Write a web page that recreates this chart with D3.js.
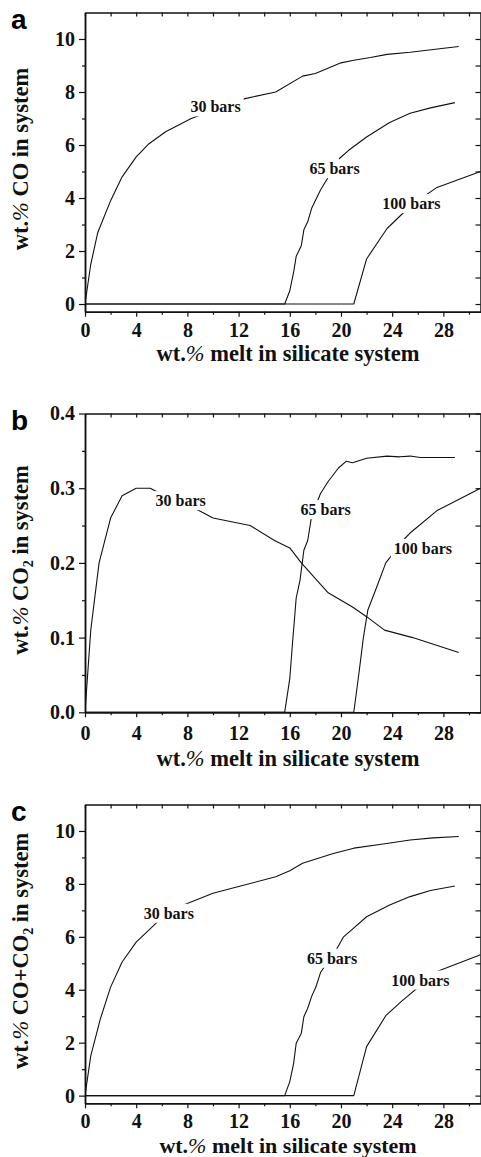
<!DOCTYPE html>
<html>
<head>
<meta charset="utf-8">
<script src="https://cdn.jsdelivr.net/npm/d3@7"></script>
<style>
body { margin: 0; background: #fff; }
svg text { font-family: "Liberation Serif", "Times New Roman", serif; font-weight: bold; fill: #111; }
</style>
</head>
<body>
<div id="chart"></div>
<script>
// ---- data ----
var xMajor = [0, 4, 8, 12, 16, 20, 24, 28];
var xMinor = [2, 6, 10, 14, 18, 22, 26, 30];
var yMajorCO = [0, 2, 4, 6, 8, 10];
var yMinorCO = [1, 3, 5, 7, 9];
var yMajorCO2 = [0, 0.1, 0.2, 0.3, 0.4];
var yMinorCO2 = [0.05, 0.15, 0.25, 0.35];
var seriesNames = ["30 bars", "65 bars", "100 bars"];

// a: wt.% CO
var co30x = [0, 0.45, 1, 2, 2.9, 4, 5, 6.3, 8.3, 12.5, 14.9, 17, 18, 20, 21, 22.3, 23.6, 25.4, 29.2];
var co30y = [0, 1.5, 2.7, 3.9, 4.8, 5.55, 6.05, 6.5, 7.0, 7.75, 8.0, 8.6, 8.7, 9.1, 9.2, 9.3, 9.42, 9.5, 9.72];
var co65x = [0, 15.6, 16.0, 16.3, 16.5, 16.9, 17.1, 17.4, 17.7, 18.4, 19.9, 20.6, 22, 23.8, 25.4, 27, 28.9];
var co65y = [0, 0, 0.5, 1.2, 1.8, 2.2, 2.8, 3.1, 3.6, 4.3, 5.5, 5.8, 6.3, 6.85, 7.2, 7.4, 7.6];
var co100x = [0, 21, 22, 23.6, 25, 26.6, 27.5, 30.9];
var co100y = [0, 0, 1.7, 2.85, 3.5, 4.1, 4.4, 5.0];
var coLabelX = [10.2, 19.5, 25.5];
var coLabelY = [7.23, 4.9, 3.58];

// b: wt.% CO2
var co2_30x = [0, 0.45, 1.1, 2, 2.9, 4, 5.1, 6, 8.9, 10, 12.9, 14.8, 16, 16.9, 19, 20.9, 22, 23.4, 25.6, 29.2];
var co2_30y = [0, 0.11, 0.2, 0.26, 0.29, 0.3, 0.3, 0.292, 0.27, 0.26, 0.25, 0.23, 0.22, 0.2, 0.16, 0.141, 0.128, 0.11, 0.1, 0.08];
var co2_65x = [0, 15.6, 16.0, 16.2, 16.5, 16.8, 17.1, 17.4, 17.7, 18.4, 19, 19.8, 20.4, 20.9, 22, 23.6, 24.6, 25.4, 26.2, 28.9];
var co2_65y = [0, 0, 0.045, 0.09, 0.153, 0.177, 0.217, 0.23, 0.262, 0.293, 0.309, 0.327, 0.336, 0.334, 0.34, 0.343, 0.342, 0.343, 0.341, 0.341];
var co2_100x = [0, 21, 21.4, 21.75, 22.1, 22.8, 23.5, 25, 25.4, 27.5, 30.9];
var co2_100y = [0, 0, 0.052, 0.1, 0.137, 0.168, 0.2, 0.233, 0.24, 0.27, 0.3];
var co2LabelX = [7.48, 18.8, 26.4];
var co2LabelY = [0.276, 0.264, 0.212];

// c: wt.% CO+CO2
var tot30x = [0, 0.45, 1.2, 2, 2.9, 4, 5.6, 7.4, 10, 12, 14.9, 16, 17, 19.4, 21, 23.3, 25.4, 27.2, 29.2];
var tot30y = [0, 1.5, 2.9, 4.1, 5.05, 5.8, 6.54, 7.15, 7.65, 7.9, 8.27, 8.5, 8.78, 9.15, 9.35, 9.51, 9.66, 9.74, 9.79];
var tot65x = [0, 15.6, 16.0, 16.3, 16.5, 16.9, 17.1, 17.4, 17.7, 18.05, 18.4, 19.7, 20.2, 20.9, 22, 23.8, 25.4, 27, 28.9];
var tot65y = [0, 0, 0.53, 1.22, 1.98, 2.36, 2.98, 3.3, 3.74, 4.12, 4.65, 5.57, 6.0, 6.29, 6.76, 7.2, 7.52, 7.75, 7.92];
var tot100x = [0, 21, 22, 23.5, 24.7, 27.5, 30.9];
var tot100y = [0, 0, 1.85, 3.02, 3.55, 4.69, 5.32];
var totLabelX = [6.55, 19.3, 26.2];
var totLabelY = [6.68, 4.98, 4.16];

// ---- layout ----
var fullwidth = 481, fullheight = 1157;
var plotLeft = 85, plotRight = 480.5;
var xMax = 30.9;

var panels = [
  { letter: "a", top: 12.5, bottom: 311.7, yDomain: [-0.29, 11], yMajor: yMajorCO, yMinor: yMinorCO,
    fmt: d3.format("d"), labelPad: 5.8, xTitleY: 361, titleSize: 22.5, ytitle: [["wt.", 0], ["%", 2], [" CO in system", 0]],
    series: [[co30x, co30y], [co65x, co65y], [co100x, co100y]], lx: coLabelX, ly: coLabelY },
  { letter: "b", top: 413.5, bottom: 712.3, yDomain: [0, 0.4], yMajor: yMajorCO2, yMinor: yMinorCO2,
    fmt: d3.format(".1f"), labelPad: 8.3, xTitleY: 766.3, titleSize: 22.5, ytitle: [["wt.", 0], ["%", 2], [" CO", 0], ["2", 1], [" in system", -1]],
    series: [[co2_30x, co2_30y], [co2_65x, co2_65y], [co2_100x, co2_100y]], lx: co2LabelX, ly: co2LabelY },
  { letter: "c", top: 804.5, bottom: 1103.3, yDomain: [-0.29, 11], yMajor: yMajorCO, yMinor: yMinorCO,
    fmt: d3.format("d"), labelPad: 6, xTitleY: 1152.5, titleSize: 22, ytitle: [["wt.", 0], ["%", 2], [" CO+CO", 0], ["2", 1], [" in system", -1]],
    series: [[tot30x, tot30y], [tot65x, tot65y], [tot100x, tot100y]], lx: totLabelX, ly: totLabelY }
];

var svg = d3.select("#chart")
    .append("svg")
    .attr("width", fullwidth)
    .attr("height", fullheight);

var x = d3.scaleLinear().domain([0, xMax]).range([plotLeft, plotRight]);

panels.forEach(drawPanel);

function styleAxis(g) {
  g.attr("font-family", "Liberation Serif, Times New Roman, serif")
   .attr("font-weight", "bold")
   .attr("font-size", 20);
  g.selectAll(".domain").attr("stroke", "#111").attr("stroke-width", 1.5);
  g.selectAll(".tick line").attr("stroke", "#111").attr("stroke-width", 1.2);
  g.selectAll(".tick text").attr("fill", "#111");
}

function drawPanel(p) {
  var y = d3.scaleLinear().domain(p.yDomain).range([p.bottom, p.top]);
  var g = svg.append("g").classed("panel-" + p.letter, true);

  g.append("clipPath").attr("id", "clip-" + p.letter)
    .append("rect")
    .attr("x", plotLeft).attr("y", p.top)
    .attr("width", plotRight - plotLeft).attr("height", p.bottom - p.top);

  var line = d3.line()
      .x(function(d) { return x(d[0]); })
      .y(function(d) { return y(d[1]); });

  var curveHolder = g.append("g").attr("clip-path", "url(#clip-" + p.letter + ")");
  curveHolder.selectAll("path.curve")
    .data(p.series)
    .enter().append("path")
    .classed("curve", true)
    .attr("d", function(s) { return line(d3.zip(s[0], s[1])); })
    .attr("fill", "none")
    .attr("stroke", "#111")
    .attr("stroke-width", 1.1)
    .attr("stroke-linejoin", "round");

  // curve labels, with a white box that breaks the line
  var labels = g.selectAll("g.curve-label")
    .data(seriesNames)
    .enter().append("g")
    .classed("curve-label", true);
  labels.append("text")
    .attr("x", function(d, i) { return x(p.lx[i]); })
    .attr("y", function(d, i) { return y(p.ly[i]); })
    .attr("text-anchor", "middle")
    .style("font-size", "16px")
    .text(function(d) { return d; });
  labels.each(function() {
    var el = d3.select(this);
    var bb = el.select("text").node().getBBox();
    el.insert("rect", "text")
      .attr("x", bb.x - 3).attr("y", bb.y - 1)
      .attr("width", bb.width + 6).attr("height", bb.height + 2)
      .attr("fill", "#fff");
  });

  // axes
  var bottomMajor = g.append("g")
    .attr("transform", "translate(0," + p.bottom + ")")
    .call(d3.axisBottom(x).tickValues(xMajor).tickSize(5).tickSizeOuter(0).tickPadding(p.labelPad).tickFormat(d3.format("d")));
  styleAxis(bottomMajor);
  var bottomMinor = g.append("g")
    .attr("transform", "translate(0," + p.bottom + ")")
    .call(d3.axisBottom(x).tickValues(xMinor).tickSize(3).tickSizeOuter(0).tickFormat(""));
  styleAxis(bottomMinor);

  var topAxis = g.append("g")
    .attr("transform", "translate(0," + p.top + ")")
    .call(d3.axisTop(x).tickValues(xMajor.concat(xMinor)).tickSize(-4).tickSizeOuter(0).tickFormat(""));
  styleAxis(topAxis);

  var leftMajor = g.append("g")
    .attr("transform", "translate(" + plotLeft + ",0)")
    .call(d3.axisLeft(y).tickValues(p.yMajor).tickSize(6).tickSizeOuter(0).tickPadding(4).tickFormat(p.fmt));
  styleAxis(leftMajor);
  var leftMinor = g.append("g")
    .attr("transform", "translate(" + plotLeft + ",0)")
    .call(d3.axisLeft(y).tickValues(p.yMinor).tickSize(3).tickSizeOuter(0).tickFormat(""));
  styleAxis(leftMinor);

  var rightAxis = g.append("g")
    .attr("transform", "translate(" + plotRight + ",0)")
    .call(d3.axisRight(y).tickValues(p.yMajor.concat(p.yMinor)).tickSize(-5).tickSizeOuter(0).tickFormat(""));
  styleAxis(rightAxis);

  // axis titles
  var xt = g.append("text")
    .attr("x", 288)
    .attr("y", p.xTitleY)
    .attr("text-anchor", "middle")
    .style("font-size", p.titleSize + "px");
  xt.append("tspan").text("wt.");
  xt.append("tspan").style("font-style", "italic").style("font-weight", "normal").text("%");
  xt.append("tspan").text(" melt in silicate system");

  var yt = g.append("text")
    .attr("transform", "translate(28," + ((p.top + p.bottom) / 2 - 3) + ")rotate(-90)")
    .attr("text-anchor", "middle")
    .style("font-size", "22.5px");
  p.ytitle.forEach(function(part) {
    var ts = yt.append("tspan").text(part[0]);
    if (part[1] === 1) ts.attr("dy", 5).style("font-size", "14px");
    if (part[1] === -1) ts.attr("dy", -5);
    if (part[1] === 2) ts.style("font-style", "italic").style("font-weight", "normal");
  });

  // panel letter
  svg.append("text")
    .attr("x", 11)
    .attr("y", p.top + 16.5)
    .style("font-family", "Liberation Sans, Arial, sans-serif")
    .style("font-size", "28px")
    .style("fill", "#000")
    .text(p.letter);
}
</script>
</body>
</html>
